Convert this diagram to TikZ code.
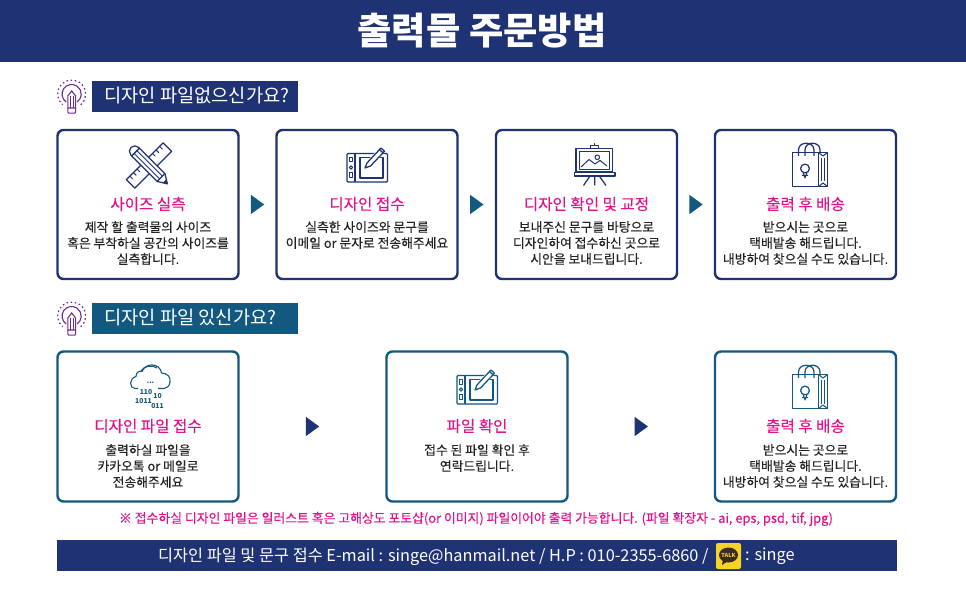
\documentclass[tikz,border=0pt]{standalone}
\usepackage{fontspec}
\setmainfont{Noto Sans CJK KR}
\newfontfamily\kmed[FakeBold=0.1]{Noto Sans CJK KR}
\usetikzlibrary{calc}
\definecolor{navy}{HTML}{1F3273}
\definecolor{teal2}{HTML}{13597F}
\definecolor{pinkt}{HTML}{E2128C}
\definecolor{purp}{HTML}{6B2D91}
\definecolor{bodyt}{HTML}{222222}
\definecolor{talky}{HTML}{F5D327}
\definecolor{talkb}{HTML}{3A2A20}
\newcommand{\fsz}[2]{\fontsize{#1}{#2}\selectfont}
\tikzset{
  x=1pt,y=-1pt,
  card/.style={rectangle,rounded corners=6pt,line width=2.4pt,fill=white,minimum width=181pt,minimum height=149pt,inner sep=0pt},
  ctitle/.style={text=pinkt,font=\kmed\fsz{15.6}{18},inner sep=0pt},
  cbody/.style={text=bodyt,font=\kmed\fsz{12.8}{16},align=center,anchor=north,inner sep=0pt},
  hdr/.style={rectangle,minimum width=206pt,minimum height=31pt,inner sep=0pt,anchor=north west},
  hdrt/.style={text=white,font=\fsz{18.7}{20},anchor=west,inner sep=0pt},
  ico/.style={line width=1.25pt,line join=round},
  pics/tools/.style={code={
    \begin{scope}[ico,shift={(149,165.5)},rotate=45]
      \draw (-26,-6) rectangle (26,6);
      \foreach \t in {-21,-16,-11,11,16,21}{\draw[line width=.9pt] (\t,-6) -- (\t,-2);}
    \end{scope}
    \begin{scope}[ico,shift={(149,165.5)},rotate=-45]
      \draw[fill=white] (17,-5.5) -- (-20,-5.5) arc[start angle=270,end angle=90,radius=5.5] -- (17,5.5) -- (26,0) -- cycle;
      \draw (-19,-5.5) -- (-19,5.5);
      \draw[line width=.9pt] (-19,-1.9) -- (17,-1.9) (-19,1.9) -- (17,1.9);
      \draw (17,-5.5) -- (17,5.5);
      \fill (26,0) -- (22,-2.4) -- (22,2.4) -- cycle;
    \end{scope}
  }},
  pics/tablet/.style={code={
    \begin{scope}[ico]
      \draw[rounded corners=1pt] (347,153.5) rectangle (387.5,182);
      \draw (355,153.5) -- (355,182);
      \draw (360,157.5) rectangle (383,178);
      \draw[line width=1pt] (349.5,157.5) rectangle (352.5,162);
      \draw[line width=1pt] (351,167.5) circle (1.7);
      \draw[line width=1pt] (349.5,172.5) rectangle (352.5,177.5);
      \draw[fill=white,draw=none] (364,169) -- (366,162.5) -- (380,147) -- (385,151.5) -- (371,167) -- cycle;
      \draw[fill=white] (365,168) -- (367,163) -- (379.5,149.5) -- (383,152.8) -- (370.5,166) -- cycle;
      \draw (379.5,149.5) -- (381,148) -- (384.5,151.2) -- (383,152.8);
    \end{scope}
  }},
  pics/easel/.style={code={
    \begin{scope}[ico]
      \draw (590.5,145.5) rectangle (598.5,148.5);
      \draw (594.5,143.5) -- (594.5,145.5);
      \draw (576,148.5) rectangle (612.5,172);
      \draw[line width=1pt] (579,151.5) rectangle (609.5,169.5);
      \draw (574.5,172.5) rectangle (615,176);
      \draw (590,176) -- (583.5,185.5) (594.7,176) -- (594.7,185.5) (599.3,176) -- (606,185.5);
      \draw[line width=1pt] (581,167) -- (589,159.5) -- (595,164) -- (600,160.5) -- (607,166);
      \draw[line width=1pt] (597.3,157.3) circle (2.3);
    \end{scope}
  }},
  pics/bag/.style={code={
    \begin{scope}[ico]
      \draw (792.5,152.5) rectangle (818.5,186.5);
      \draw (818.5,152.5) -- (827.5,152.5) -- (827.5,186.5) -- (818.5,186.5);
      \draw[line width=1pt] (818.5,152.5) -- (823,156) -- (827.5,152.5) (818.5,186.5) -- (823,183) -- (827.5,186.5);
      \draw[line width=1pt] (821.5,158) -- (821.5,181.5) (824.5,158) -- (824.5,181.5);
      \draw (798.5,156) -- (798.5,150) .. controls (798.5,141) and (814,141) .. (814,150) -- (814,156);
      \draw (805,156) -- (805,150) .. controls (805,141) and (820,141) .. (820,150) -- (820,152.5);
      \draw (805,168.5) circle (4.4);
      \draw[line width=1pt] (803,172.5) -- (805,178) -- (807,172.5) (802,175.5) -- (808,175.5);
    \end{scope}
  }},
  pics/bulb/.style={code={
    \begin{scope}[line width=1.1pt,purp]
      \draw[dash pattern=on 1.6pt off 2.6pt,line width=1.2pt] (71.7,94) ++(50:14) arc[start angle=50,end angle=-230,radius=14];
      \draw (66.2,102) arc[start angle=124.5,end angle=415.5,radius=9.6];
      \draw[fill=white] (67.8,108) -- (67.8,96) -- (71.7,91) -- (75.6,96) -- (75.6,108) -- cycle;
      \draw[line width=.9pt] (70.4,96.5) -- (70.4,108) (73,96.5) -- (73,108);
      \draw[rounded corners=1pt] (67.8,108) -- (67.8,113.2) -- (75.6,113.2) -- (75.6,108);
    \end{scope}
  }},
  pics/cloud/.style={code={
    \begin{scope}[ico,line width=1.1pt]
      \draw (138,388.5) -- (135,388.5) .. controls (129,388.5) and (129,378) .. (136,376.5) .. controls (136,372) and (139.5,370.5) .. (142,371.5) .. controls (146,362) and (160,363) .. (161.5,373) .. controls (167,373) and (171,377) .. (170,382) .. controls (169.5,386) and (167,388.5) .. (164,388.5) -- (158,388.5);
      \draw (141,371.5) .. controls (144,365) and (153,365) .. (157,368);
      \node[font=\bfseries\fsz{7}{7},inner sep=0pt] (d0) at (150.5,382.5) {...};
      \node[font=\bfseries\fsz{6.8}{8},inner sep=0pt] (d1) at (146,391.7) {110};
      \node[font=\bfseries\fsz{6.8}{8},inner sep=0pt] (d2) at (157.5,396) {10};
      \node[font=\bfseries\fsz{6.8}{8},inner sep=0pt] (d3) at (143.5,401) {1011};
      \node[font=\bfseries\fsz{6.8}{8},inner sep=0pt] (d4) at (157.5,405.7) {011};
    \end{scope}
  }},
}
\begin{document}
\begin{tikzpicture}
\useasboundingbox (0,0) rectangle (966,593);
\fill[white] (0,0) rectangle (966,593);
% banner
\node[rectangle,fill=navy,minimum width=966pt,minimum height=62pt,inner sep=0pt,anchor=north west] (banner) at (0,0) {};
\node[text=white,font=\bfseries\fsz{37.3}{40},inner sep=0pt] (btitle) at (482,30.5) {출력물 주문방법};
% header 1
\pic {bulb};
\node[hdr,fill=navy] (h1) at (92,81) {};
\node[hdrt] (h1t) at (104,96) {디자인 파일없으신가요?};
% row 1
\node[card,draw=navy] (c1) at (148,204.5) {};
\node[card,draw=navy] (c2) at (367,204.5) {};
\node[card,draw=navy] (c3) at (586.5,204.5) {};
\node[card,draw=navy] (c4) at (805.5,204.5) {};
\pic[navy] {tools};
\pic[navy] {tablet};
\pic[navy] {easel};
\pic[navy] {bag};
\node[ctitle] (c1t) at (148,204) {사이즈 실측};
\node[ctitle] (c2t) at (367,204) {디자인 접수};
\node[ctitle] (c3t) at (586.5,204) {디자인 확인 및 교정};
\node[ctitle] (c4t) at (805.5,204) {출력 후 배송};
\node[cbody] (c1b) at (148,221) {제작 할 출력물의 사이즈\\혹은 부착하실 공간의 사이즈를\\실측합니다.};
\node[cbody] (c2b) at (367,221) {실측한 사이즈와 문구를\\이메일 or 문자로 전송해주세요};
\node[cbody] (c3b) at (586.5,221) {보내주신 문구를 바탕으로\\디자인하여 접수하신 곳으로\\시안을 보내드립니다.};
\node[cbody] (c4b) at (805.5,221) {받으시는 곳으로\\택배발송 해드립니다.\\내방하여 찾으실 수도 있습니다.};
\foreach \a/\b in {c1/c2,c2/c3,c3/c4}{
  \fill[teal2] ($(\a.east)!.5!(\b.west)$) ++(-6.7,-9.7) -- ++(13.4,9.7) -- ++(-13.4,9.7) -- cycle;
}
% header 2
\begin{scope}[yshift=-222pt]\pic {bulb};\end{scope}
\node[hdr,fill=teal2] (h2) at (92,303) {};
\node[hdrt] (h2t) at (104,318) {디자인 파일 있신가요?};
% row 2
\node[card,draw=teal2,minimum height=150pt] (c5) at (148,426.5) {};
\node[card,draw=teal2,minimum height=150pt] (c6) at (477,426.5) {};
\node[card,draw=teal2,minimum height=150pt] (c7) at (805.5,426.5) {};
\pic[teal2] {cloud};
\begin{scope}[xshift=110pt,yshift=-222pt]\pic[teal2] {tablet};\end{scope}
\begin{scope}[yshift=-222pt]\pic[teal2] {bag};\end{scope}
\node[ctitle] (c5t) at (148,426) {디자인 파일 접수};
\node[ctitle] (c6t) at (477,426) {파일 확인};
\node[ctitle] (c7t) at (805.5,426) {출력 후 배송};
\node[cbody] (c5b) at (148,444) {출력하실 파일을\\카카오톡 or 메일로\\전송해주세요};
\node[cbody] (c6b) at (477,444) {접수 된 파일 확인 후\\연락드립니다.};
\node[cbody] (c7b) at (805.5,444) {받으시는 곳으로\\택배발송 해드립니다.\\내방하여 찾으실 수도 있습니다.};
\foreach \a/\b in {c5/c6,c6/c7}{
  \fill[navy] ($(\a.east)!.5!(\b.west)$) ++(-6.7,-9.7) -- ++(13.4,9.7) -- ++(-13.4,9.7) -- cycle;
}
% note
\node[text=pinkt,font=\kmed\fsz{12.85}{14},inner sep=0pt] (note) at (476,519) {※ 접수하실 디자인 파일은 일러스트 혹은 고해상도 포토샵(or 이미지) 파일이어야 출력 가능합니다. (파일 확장자 - ai, eps, psd, tif, jpg)};
% bottom bar
\node[rectangle,fill=navy,minimum width=840pt,minimum height=31pt,inner sep=0pt,anchor=north west] (bar) at (57,540) {};
\node[text=white,font=\fsz{16.3}{18},anchor=west,inner sep=0pt] (bt1) at (158,556.5) {디자인 파일 및 문구 접수 E-mail : singe@hanmail.net / H.P : 010-2355-6860 /};
\node[rectangle,rounded corners=2pt,fill=talky,minimum width=25pt,minimum height=26pt,inner sep=0pt] (talk) at (728.5,556) {};
\fill[talkb] (728.5,555) ellipse (9.5 and 7.5);
\fill[talkb] (723,559) -- (722,565) -- (728,561) -- cycle;
\node[text=talky,font=\bfseries\fsz{5.5}{6},inner sep=0pt] (talkt) at (728.5,555) {TALK};
\node[text=white,font=\fsz{16.3}{18},anchor=west,inner sep=0pt] (bt2) at (745,556.5) {: singe};
\end{tikzpicture}
\end{document}
